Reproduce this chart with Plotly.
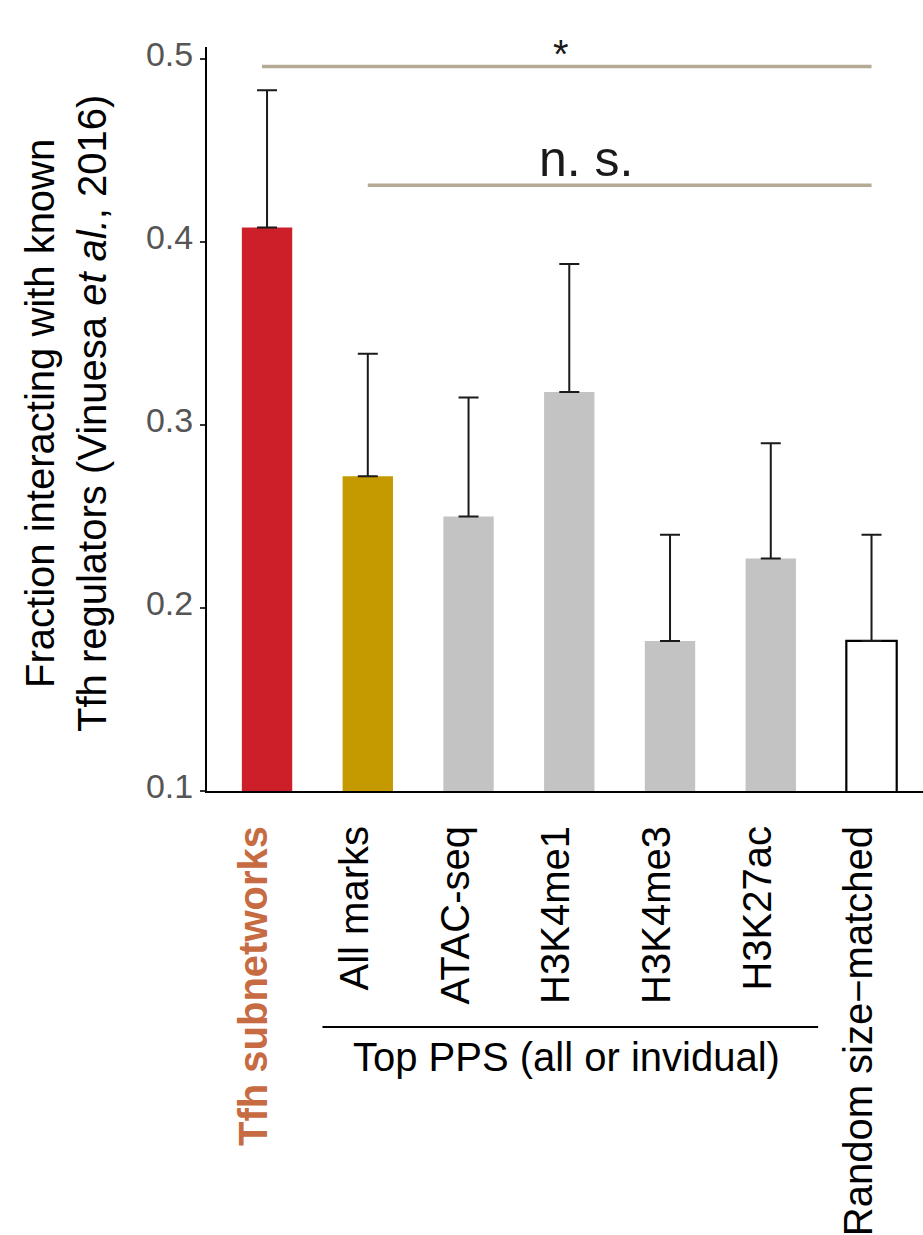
import plotly.graph_objects as go

# Bar categories and values
categories = ["Tfh subnetworks", "All marks", "ATAC-seq", "H3K4me1",
              "H3K4me3", "H3K27ac", "Random size\u2212matched"]
fraction = [0.408, 0.272, 0.250, 0.318, 0.182, 0.227, 0.182]
upper = [0.483, 0.339, 0.315, 0.388, 0.240, 0.290, 0.240]
fill_colors = ["#CD1F2A", "#C59A00", "#C3C3C3", "#C3C3C3",
               "#C3C3C3", "#C3C3C3", "#FFFFFF"]
y_ticks = [0.1, 0.2, 0.3, 0.4, 0.5]
y_tick_labels = ["0.1", "0.2", "0.3", "0.4", "0.5"]

# Significance comparisons: bar index ranges, bracket height, label
sig_from = [0, 1]
sig_to = [6, 6]
sig_level = [0.496, 0.431]
sig_label = ["*", "n. s."]

FONT = "Liberation Sans, Arial, Helvetica, sans-serif"
W, H = 923, 1235
ML, MT, MB = 207, 47, 444

x = list(range(len(categories)))
err_plus = [u - f for u, f in zip(upper, fraction)]
line_w = [2.2 if c == "#FFFFFF" else 0 for c in fill_colors]

tick_text = [
    "<b><span style='color:#C76B43'>%s</span></b>" % categories[0]
] + categories[1:]

fig = go.Figure()
fig.add_trace(go.Bar(
    x=x, y=fraction, width=0.5,
    marker=dict(color=fill_colors, line=dict(color="black", width=line_w)),
    error_y=dict(type="data", symmetric=False, array=err_plus,
                 arrayminus=[0] * len(x), color="#1a1a1a",
                 thickness=2, width=10),
    showlegend=False, hoverinfo="skip",
))

shapes = []
annotations = []
tan = "#B5AA93"
for a, b, lvl, lab in zip(sig_from, sig_to, sig_level, sig_label):
    shapes.append(dict(type="line", xref="x", yref="y",
                       x0=a - 0.05 if a == 0 else a, x1=b, y0=lvl, y1=lvl,
                       line=dict(color=tan, width=3.5)))

# significance labels
annotations.append(dict(text="*", x=2.92, y=0.5027, xref="x", yref="y",
                        showarrow=False, xanchor="center", yanchor="middle",
                        font=dict(family=FONT, size=40, color="#1a1a1a")))
annotations.append(dict(text="n. s.", x=3.17, y=0.4456, xref="x", yref="y",
                        showarrow=False, xanchor="center", yanchor="middle",
                        font=dict(family=FONT, size=50, color="#1a1a1a")))

# group bracket under the individual-mark bars
shapes.append(dict(type="line", xref="x", yref="paper",
                   x0=0.55, x1=5.47, y0=-0.3172, y1=-0.3172,
                   line=dict(color="black", width=2)))
annotations.append(dict(text="Top PPS (all or invidual)", x=2.97, y=-0.358,
                        xref="x", yref="paper", showarrow=False,
                        xanchor="center", yanchor="middle",
                        font=dict(family=FONT, size=40, color="black")))

# y-axis title
annotations.append(dict(
    text="Fraction interacting with known<br>"
         "Tfh regulators (Vinuesa <i>et al.</i>, 2016)",
    x=(66 - ML) / (W - ML), y=0.5067, xref="paper", yref="paper",
    textangle=-90, showarrow=False, xanchor="center", yanchor="middle",
    align="center", font=dict(family=FONT, size=40, color="black")))

fig.update_layout(
    width=W, height=H, autosize=False,
    margin=dict(l=ML, r=0, t=MT, b=MB, pad=0),
    paper_bgcolor="white", plot_bgcolor="white",
    font=dict(family=FONT, color="black"),
    shapes=shapes, annotations=annotations,
    bargap=0.5,
)
fig.update_xaxes(
    range=[-0.596, 6.511], tickmode="array", tickvals=x, ticktext=tick_text,
    tickangle=-90, ticks="", showgrid=False, zeroline=False,
    showline=True, linecolor="black", linewidth=2,
    ticklabelstandoff=17, ticklabelshift=-13, automargin=False,
    tickfont=dict(family=FONT, size=40, color="black"),
)
fig.update_yaxes(
    range=[0.1, 0.5066], tickmode="array", tickvals=y_ticks,
    ticktext=y_tick_labels, ticks="outside", ticklen=5, tickwidth=2,
    tickcolor="#333333", showgrid=False, zeroline=False,
    showline=True, linecolor="black", linewidth=2, automargin=False,
    ticklabelshift=-5,
    tickfont=dict(family=FONT, size=34, color="#555555"),
)

fig.write_html("out.html")
